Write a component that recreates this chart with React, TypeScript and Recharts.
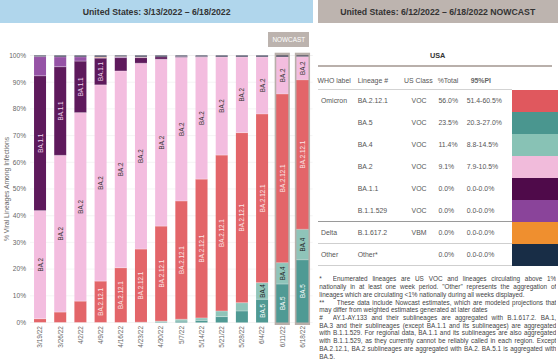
import { BarChart, Bar, XAxis, YAxis, CartesianGrid, LabelList } from "recharts";

// week ending dates
const weeks = [
  "3/19/22", "3/26/22", "4/2/22", "4/9/22", "4/16/22", "4/23/22", "4/30/22",
  "5/7/22", "5/14/22", "5/21/22", "5/28/22", "6/4/22", "6/11/22", "6/18/22",
];
const nowcastWeeks = ["6/11/22", "6/18/22"];

// share of lineages, % (bottom to top of the stack)
const ba5 = [0, 0, 0, 0, 0, 0, 0.2, 0.5, 0.8, 2.2, 4.3, 8.7, 14.4, 23.5];
const ba4 = [0, 0, 0, 0, 0, 0.1, 0.3, 0.7, 0.9, 2.1, 3.1, 6.2, 8.0, 11.4];
const ba2121 = [1.4, 3.9, 8.0, 15.5, 20.5, 27.4, 35.6, 44.3, 52.0, 58.4, 63.7, 63.2, 63.2, 56.0];
const ba2 = [40.5, 58.7, 70.6, 73.5, 73.7, 69.6, 62.5, 53.8, 45.7, 36.8, 28.4, 21.4, 13.9, 8.7];
const ba11 = [50.5, 33.2, 19.3, 10.0, 5.0, 2.1, 0.9, 0.3, 0.2, 0, 0, 0, 0, 0];
const b11529 = [7.2, 3.7, 1.6, 0.3, 0.3, 0.2, 0, 0, 0, 0, 0, 0, 0, 0];
const delta = [0, 0, 0, 0.2, 0.1, 0.1, 0, 0, 0, 0, 0, 0, 0, 0];
const other = [0.4, 0.5, 0.5, 0.5, 0.4, 0.5, 0.5, 0.4, 0.4, 0.5, 0.5, 0.5, 0.5, 0.4];

const yTicks = [0, 10, 20, 30, 40, 50, 60, 70, 80, 90, 100];

// nowcast table
const tableWho = ["Omicron", "", "", "", "", "", "Delta", "Other"];
const tableLineage = ["BA.2.12.1", "BA.5", "BA.4", "BA.2", "BA.1.1", "B.1.1.529", "B.1.617.2", "Other*"];
const tableClass = ["VOC", "VOC", "VOC", "VOC", "VOC", "VOC", "VBM", ""];
const tableShare = ["56.0%", "23.5%", "11.4%", "9.1%", "0.0%", "0.0%", "0.0%", "0.0%"];
const tablePI = ["51.4-60.5%", "20.3-27.0%", "8.8-14.5%", "7.9-10.5%", "0.0-0.0%", "0.0-0.0%", "0.0-0.0%", "0.0-0.0%"];
const tableColors = ["#e0585e", "#4a968f", "#88c2b5", "#f1bbdb", "#4f0a4a", "#8a449a", "#ef8f2f", "#182d46"];

const series = [
  { key: "ba5", name: "BA.5", color: "#4f9a94", text: "#ffffff" },
  { key: "ba4", name: "BA.4", color: "#8fc4b9", text: "#222222" },
  { key: "ba2121", name: "BA.2.12.1", color: "#e36569", text: "#fbe6e6" },
  { key: "ba2", name: "BA.2", color: "#f3bddf", text: "#333333" },
  { key: "ba11", name: "BA.1.1", color: "#5e1a5c", text: "#eed6ec" },
  { key: "b11529", name: "B.1.1.529", color: "#9653a6", text: "#ffffff" },
  { key: "delta", name: "B.1.617.2", color: "#ef8f2f", text: "#222222" },
  { key: "other", name: "Other", color: "#2b2d48", text: "#ffffff" },
];

const data = weeks.map((week, i) => ({
  week,
  ba5: ba5[i],
  ba4: ba4[i],
  ba2121: ba2121[i],
  ba2: ba2[i],
  ba11: ba11[i],
  b11529: b11529[i],
  delta: delta[i],
  other: other[i],
}));

const FONT = '"Liberation Sans", Arial, sans-serif';
const PLOT_TOP = 55.5;
const LABEL_SIZE = 6.3;

// rough Arial width of a lineage name
const textWidth = (s: string, size: number) =>
  s.split("").reduce((w, c) => w + (c === "." ? 0.278 : /[0-9]/.test(c) ? 0.556 : 0.667), 0) * size;

const makeShape = (key: string) => (props: any) => {
  const { x, y, width, height, fill, index, background } = props;
  const h = Math.abs(height || 0);
  const top = height < 0 ? y + height : y;
  const parts: any[] = [];
  if (key === "ba5" && nowcastWeeks.includes(weeks[index])) {
    const bgTop = background ? background.y : PLOT_TOP;
    const bgBottom = background ? background.y + background.height : top + h;
    parts.push(
      <rect key="frame" x={x - 1.6} y={bgTop - 2.8} width={width + 3.2}
        height={bgBottom - bgTop + 5.3} fill="#b8afaa" />
    );
  }
  if (h > 0.01) {
    parts.push(<rect key="seg" x={x} y={top} width={width} height={h} fill={fill} />);
    if (key !== "ba5") {
      parts.push(
        <line key="sep" x1={x} x2={x + width} y1={top + h} y2={top + h}
          stroke="#ffffff" strokeOpacity={0.55} strokeWidth={0.6} />
      );
    }
  }
  return <g>{parts}</g>;
};

const makeLabel = (name: string, color: string) => (props: any) => {
  const vb = props.viewBox || props;
  const { x, y, width, height } = vb;
  if (x == null || height == null) return null;
  const h = Math.abs(height);
  const top = height < 0 ? y + height : y;
  if (h < textWidth(name, LABEL_SIZE) + 2) return null;
  const cx = x + width / 2;
  const cy = top + h / 2;
  return (
    <text x={cx} y={cy} transform={`rotate(-90 ${cx} ${cy})`} textAnchor="middle"
      dominantBaseline="central" fontSize={LABEL_SIZE} fontFamily={FONT} fill={color}>
      {name}
    </text>
  );
};

const DateTick = (props: any) => {
  const { x, y, payload } = props;
  return (
    <text x={x} y={y} transform={`rotate(-90 ${x} ${y})`} textAnchor="end" dy="0.35em"
      fontSize={6.5} fontFamily={FONT} fill="#666666">
      {payload.value}
    </text>
  );
};

const footLines = [
  { mark: "*", text: "Enumerated lineages are US VOC and lineages circulating above 1%", last: false },
  { mark: "", text: 'nationally in at least one week period. "Other" represents the aggregation of', last: false },
  { mark: "", text: "lineages which are circulating <1% nationally during all weeks displayed.", last: true },
  { mark: "**", text: "These data include Nowcast estimates, which are modeled projections that", last: false },
  { mark: "", text: "may differ from weighted estimates generated at later dates", last: true },
  { mark: "#", text: "AY.1-AY.133 and their sublineages are aggregated with B.1.617.2. BA.1,", last: false },
  { mark: "", text: "BA.3 and their sublineages (except BA.1.1 and its sublineages) are aggregated", last: false },
  { mark: "", text: "with B.1.1.529. For regional data, BA.1.1 and its sublineages are also aggregated", last: false },
  { mark: "", text: "with B.1.1.529, as they currently cannot be reliably called in each region. Except", last: false },
  { mark: "", text: "BA.2.12.1, BA.2 sublineages are aggregated with BA.2. BA.5.1 is aggregated with", last: false },
  { mark: "", text: "BA.5.", last: true },
];

const cell = (left: number, cy: number, text: string, extra: any = {}) => (
  <div style={{
    position: "absolute", left, top: cy - 5, height: 10, lineHeight: "10px",
    fontSize: 6.9, color: "#555555", whiteSpace: "nowrap", ...extra,
  }}>{text}</div>
);

export default function App() {
  const ROW_TOP = 89.3;
  const ROW_H = 22;
  return (
    <div style={{
      position: "absolute", left: 0, top: 0, width: 559, height: 362,
      background: "#ffffff", overflow: "hidden", fontFamily: FONT,
    }}>
      {/* titles */}
      <div style={{
        position: "absolute", left: 0, top: 0, width: 313.3, height: 23, background: "#b0d6ec",
        textAlign: "center", lineHeight: "24px", fontSize: 8.7, fontWeight: "bold", color: "#333333",
      }}>United States: 3/13/2022 – 6/18/2022</div>
      <div style={{
        position: "absolute", left: 317.7, top: 0, width: 240, height: 23, background: "#bdb4af",
        textAlign: "center", lineHeight: "24px", fontSize: 8.7, fontWeight: "bold", color: "#333333",
      }}>United States: 6/12/2022 – 6/18/2022 NOWCAST</div>

      {/* stacked bars */}
      <div style={{ position: "absolute", left: 0, top: 0 }}>
        <BarChart width={315} height={362} data={data} barCategoryGap="20%"
          margin={{ top: PLOT_TOP, right: 2.4, bottom: 4.5, left: 0 }}>
          <CartesianGrid vertical={false} stroke="#ececec" strokeWidth={0.6} />
          <XAxis dataKey="week" interval={0} height={35} tickLine={false} axisLine={false}
            tickSize={1.5} tickMargin={2} tick={<DateTick />} />
          <YAxis type="number" domain={[0, 100]} ticks={yTicks} width={30} tickLine={false}
            axisLine={false} tickSize={2} tickMargin={2} tickFormatter={(v: number) => `${v}%`}
            tick={{ fontSize: 6.6, fill: "#666666", fontFamily: FONT }} />
          {series.map((s) => (
            <Bar key={s.key} dataKey={s.key} stackId="v" fill={s.color}
              isAnimationActive={false} shape={makeShape(s.key)}>
              <LabelList dataKey={s.key} content={makeLabel(s.name, s.text)} />
            </Bar>
          ))}
        </BarChart>
      </div>

      {/* y axis title */}
      <div style={{
        position: "absolute", left: 6, top: 189.4, fontSize: 6.75, color: "#666666",
        whiteSpace: "nowrap", transform: "translate(-50%, -50%) rotate(-90deg)",
      }}>% Viral Lineages Among Infections</div>

      {/* nowcast tag */}
      <div style={{
        position: "absolute", left: 268.3, top: 32, width: 41, height: 14.7, background: "#bcb3ae",
        color: "#ffffff", fontSize: 6.4, lineHeight: "15px", textAlign: "center",
      }}>NOWCAST</div>

      {/* table */}
      <div style={{
        position: "absolute", left: 387.7, top: 50.7, width: 100, height: 10, lineHeight: "10px",
        textAlign: "center", fontSize: 7.3, fontWeight: "bold", color: "#333333",
      }}>USA</div>
      <div style={{ position: "absolute", left: 317.7, top: 64.5, width: 234.5, height: 2.5, background: "#b9b0ab" }} />
      {cell(317.5, 81.3, "WHO label")}
      {cell(357.7, 81.3, "Lineage #")}
      {cell(404, 81.3, "US Class")}
      {cell(437.7, 81.3, "%Total")}
      {cell(470.7, 81.3, "95%PI", { fontWeight: "bold", color: "#666666" })}
      <div style={{ position: "absolute", left: 317.7, top: 89.3, width: 194, height: 1, background: "#d3d3d3" }} />

      {tableLineage.map((lin, i) => {
        const cy = ROW_TOP + ROW_H * i + ROW_H / 2 + 0.3;
        return (
          <div key={lin}>
            {tableWho[i] && cell(321, cy, tableWho[i])}
            {cell(357.7, cy, lin)}
            <div style={{
              position: "absolute", left: 404, width: 30, top: cy - 5, height: 10, lineHeight: "10px",
              fontSize: 6.9, color: "#555555", textAlign: "center",
            }}>{tableClass[i]}</div>
            {cell(438.5, cy, tableShare[i])}
            {cell(466.7, cy, tablePI[i])}
            <div style={{
              position: "absolute", left: 511.7, top: ROW_TOP + ROW_H * i + 0.5, width: 46,
              height: ROW_H, background: tableColors[i],
            }} />
          </div>
        );
      })}
      <div style={{ position: "absolute", left: 317.7, top: 220.8, width: 194, height: 1, background: "#9a9a9a" }} />
      <div style={{ position: "absolute", left: 317.7, top: 242.6, width: 194, height: 1.5, background: "#cfcfcf" }} />
      <div style={{ position: "absolute", left: 317.7, top: 265.3, width: 194, height: 1, background: "#cfcfcf" }} />

      {/* footnotes */}
      {footLines.map((ln, i) => (
        <div key={i} style={{
          position: "absolute", left: 319.3, top: 279.3 + 7.74 * i - 4, width: 237, height: 8,
          lineHeight: "8px", fontSize: 6.4, color: "#444444", display: "flex",
        }}>
          {ln.mark !== "" && (
            <span style={{ width: ln.mark === "**" ? 17.5 : 13.5, flex: "none" }}>{ln.mark}</span>
          )}
          <span style={{
            flex: 1, textAlign: "justify", textAlignLast: ln.last ? "left" : "justify",
            overflow: "hidden", height: 8,
          }}>{ln.text}</span>
        </div>
      ))}
    </div>
  );
}
